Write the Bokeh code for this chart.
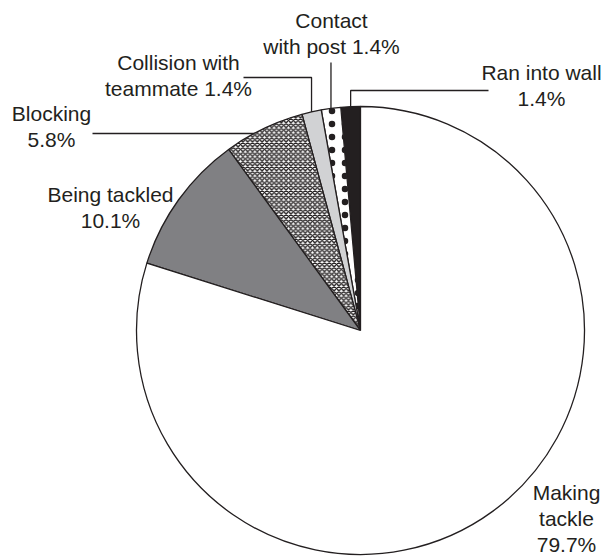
import numpy as np
from bokeh.plotting import figure
from bokeh.models import Range1d, ColumnDataSource
from bokeh.core.properties import value
from bokeh.embed import file_html
from bokeh.resources import INLINE

# Causes of injury, listed counter-clockwise from 12 o'clock
causes = ["Ran into wall", "Contact with post", "Collision with teammate",
          "Blocking", "Being tackled", "Making tackle"]
percent = [1.4, 1.4, 1.4, 5.8, 10.1, 79.7]

# Label text lines for each cause ({} is replaced by the percentage)
label_lines = [
    ["Ran into wall", "{}%"],
    ["Contact", "with post {}%"],
    ["Collision with", "teammate {}%"],
    ["Blocking", "{}%"],
    ["Being tackled", "{}%"],
    ["Making", "tackle", "{}%"],
]

W, H = 604, 559
INK = "#231f20"
FONT = "Liberation Sans"

fills = [INK, "white", "#d1d2d4", "white", "#808083", "white"]
hatches = [" ", "dot", " ", "diagonal_cross", " ", " "]
hatch_scales = [8, 13, 8, 4.8, 8, 8]
hatch_weights = [1, 1.0, 1, 1.4, 1, 1]

# pie geometry in page pixels (y measured from the top)
cx, cy, r = 360, 330, 224


def py(y):
    return H - y


vals = np.array(percent, dtype=float)
frac = vals / vals.sum()
edges = np.pi / 2 + 2 * np.pi * np.concatenate([[0], np.cumsum(frac)])
starts, ends = edges[:-1], edges[1:]
mids = (starts + ends) / 2

p = figure(width=W, height=H, output_backend="svg", toolbar_location=None,
           x_range=Range1d(0, W), y_range=Range1d(0, H),
           min_border=0, outline_line_color=None)
p.axis.visible = False
p.grid.visible = False
p.background_fill_color = "white"
p.border_fill_color = "white"

src = ColumnDataSource(dict(cause=causes, start=starts, end=ends, fill=fills,
                            hatch=hatches, hscale=hatch_scales,
                            hweight=hatch_weights))
p.wedge(x=cx, y=py(cy), radius=r, start_angle="start", end_angle="end",
        fill_color="fill", hatch_pattern="hatch", hatch_scale="hscale",
        hatch_weight="hweight", hatch_color=INK,
        line_color=INK, line_width=1.3, source=src)


def edge_at(angle):
    return cx + r * np.cos(angle), cy - r * np.sin(angle)


# leader lines (elbows in page pixels)
lx, ly = [], []
# Ran into wall: up then right
ax, ay = edge_at(mids[0])
lx.append([ax, ax, 488]); ly.append([py(ay), py(90), py(90)])
# Contact with post: straight up
ax, ay = edge_at(mids[1])
lx.append([ax, ax]); ly.append([py(ay), py(62)])
# Collision with teammate: up then left
ax, ay = edge_at(mids[2])
lx.append([ax, ax, 243]); ly.append([py(ay), py(77), py(77)])
# Blocking: horizontal from the rim
yb = 133
xb = cx - np.sqrt(r ** 2 - (cy - yb) ** 2)
lx.append([xb, 92]); ly.append([py(yb), py(yb)])
p.multi_line(xs=lx, ys=ly, line_color=INK, line_width=1.3)

# label anchors: centre x and first baseline in page pixels
label_pos = [(541, 72), (331, 20), (178, 62), (51, 113), (110, 194), (566, 492)]
step = 26
tx, ty, tt = [], [], []
for lines, v, (x0, y0) in zip(label_lines, percent, label_pos):
    for i, ln in enumerate(lines):
        tx.append(x0)
        ty.append(py(y0 + i * step))
        tt.append(ln.format(v))
p.text(x=tx, y=ty, text=tt, text_font=value(FONT), text_font_size="21px",
       text_color=INK, text_align="center", text_baseline="alphabetic")

open("out.html", "w").write(file_html(p, INLINE))
